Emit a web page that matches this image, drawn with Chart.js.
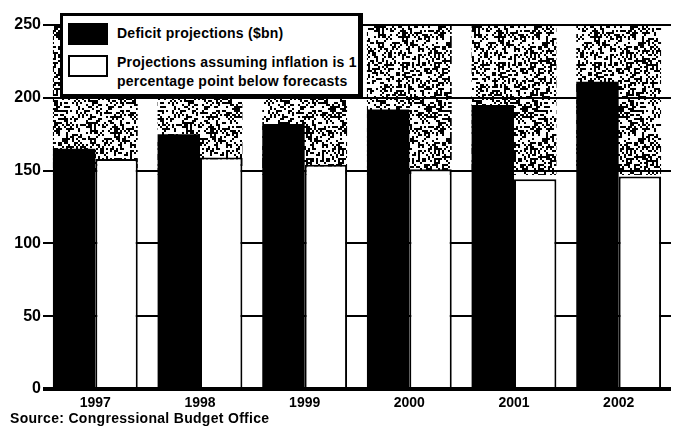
<!DOCTYPE html>
<html>
<head>
<meta charset="utf-8">
<script src="https://cdn.jsdelivr.net/npm/chart.js@4"></script>
<style>
  html, body { margin: 0; padding: 0; background: #fff; }
  #wrap { position: relative; width: 676px; height: 436px; font-family: "Liberation Sans", Arial, sans-serif; color: #000; }
  #wrap canvas { position: absolute; left: 0; top: 0; }
  #legend { position: absolute; left: 60px; top: 13px; width: 295px; height: 78px; background: #fff;
            border: 3px solid #000; border-right-width: 5px; border-bottom-width: 4px; }
  .sw { position: absolute; left: 5px; width: 40px; height: 22px; box-sizing: border-box; }
  .txt { position: absolute; left: 54px; font-weight: bold; font-size: 14px; letter-spacing: 0.25px; white-space: nowrap; }
  #source { position: absolute; left: 10px; top: 410px; font-weight: bold; font-size: 14px; line-height: 17px; letter-spacing: 0.3px; }
</style>
</head>
<body>
<div id="wrap">
  <canvas id="myChart" width="676" height="436"></canvas>
  <div id="legend">
    <div class="sw" style="top:7px;background:#000;"></div>
    <div class="txt" style="top:8px;line-height:18px;">Deficit projections ($bn)</div>
    <div class="sw" style="top:39px;background:#fff;border:2px solid #000;"></div>
    <div class="txt" style="top:37px;line-height:19px;">Projections assuming inflation is 1<br>percentage point below forecasts</div>
  </div>
  <div id="source">Source: Congressional Budget Office</div>
</div>
<script>
const years = ['1997', '1998', '1999', '2000', '2001', '2002'];
const deficit = [165, 175, 182, 192, 195, 211];
const lowInflation = [158, 159, 154, 151, 144, 146];
const shadeRange = [147, 250];   // stippled band behind each pair of bars
const yMin = 0, yMax = 250, yStep = 50;

// stipple texture for the shaded band (scan look)
function makeStipple() {
  const c = document.createElement('canvas');
  c.width = 96; c.height = 96;
  const g = c.getContext('2d');
  let seed = 12345;
  const rnd = () => { seed = (seed * 1103515245 + 12345) % 2147483648; return seed / 2147483648; };
  g.fillStyle = '#000';
  for (let y = 0; y < 96; y += 2) {
    for (let x = 0; x < 96; x += 2) {
      if (rnd() < 0.4) g.fillRect(x, y, 2, 2);
    }
  }
  return c;
}

const shadePlugin = {
  id: 'shade',
  beforeDraw(chart) {
    const { ctx, scales: { y } } = chart;
    const a = chart.getDatasetMeta(0).data;
    const b = chart.getDatasetMeta(1).data;
    const top = y.getPixelForValue(shadeRange[1]);
    const bottom = y.getPixelForValue(shadeRange[0]);
    ctx.save();
    ctx.fillStyle = ctx.createPattern(makeStipple(), 'repeat');
    a.forEach((bar, i) => {
      const left = bar.x - bar.width / 2;
      const right = b[i].x + b[i].width / 2;
      ctx.fillRect(left, top, right - left, bottom - top);
    });
    ctx.restore();
  }
};

const ctx = document.getElementById('myChart').getContext('2d');
new Chart(ctx, {
  type: 'bar',
  data: {
    labels: years,
    datasets: [{
      label: 'Deficit projections ($bn)',
      data: deficit,
      backgroundColor: '#000',
      borderColor: '#000',
      borderWidth: 0
    }, {
      label: 'Projections assuming inflation is 1 percentage point below forecasts',
      data: lowInflation,
      backgroundColor: '#fff',
      borderColor: '#000',
      borderWidth: 2
    }]
  },
  options: {
    responsive: false,
    animation: false,
    layout: { padding: { top: 25, right: 5, left: 0, bottom: 0 } },
    datasets: { bar: { barPercentage: 1.0, categoryPercentage: 0.81 } },
    plugins: { legend: { display: false }, tooltip: { enabled: false } },
    scales: {
      x: {
        grid: { display: false, drawTicks: false },
        border: { display: false },
        ticks: { color: '#000', font: { family: 'Liberation Sans', size: 14, weight: 'bold' }, padding: 6 },
        afterFit: (scale) => { scale.height = 47; }
      },
      y: {
        min: yMin,
        max: yMax,
        border: { display: false },
        grid: {
          color: '#000',
          lineWidth: (c) => (c.tick && c.tick.value === 0 ? 4 : 2),
          drawTicks: false
        },
        ticks: { stepSize: yStep, color: '#000', font: { family: 'Liberation Sans', size: 16, weight: 'bold' }, padding: 2 },
        afterFit: (scale) => { scale.width = 43; }
      }
    }
  },
  plugins: [shadePlugin]
});
</script>
</body>
</html>
